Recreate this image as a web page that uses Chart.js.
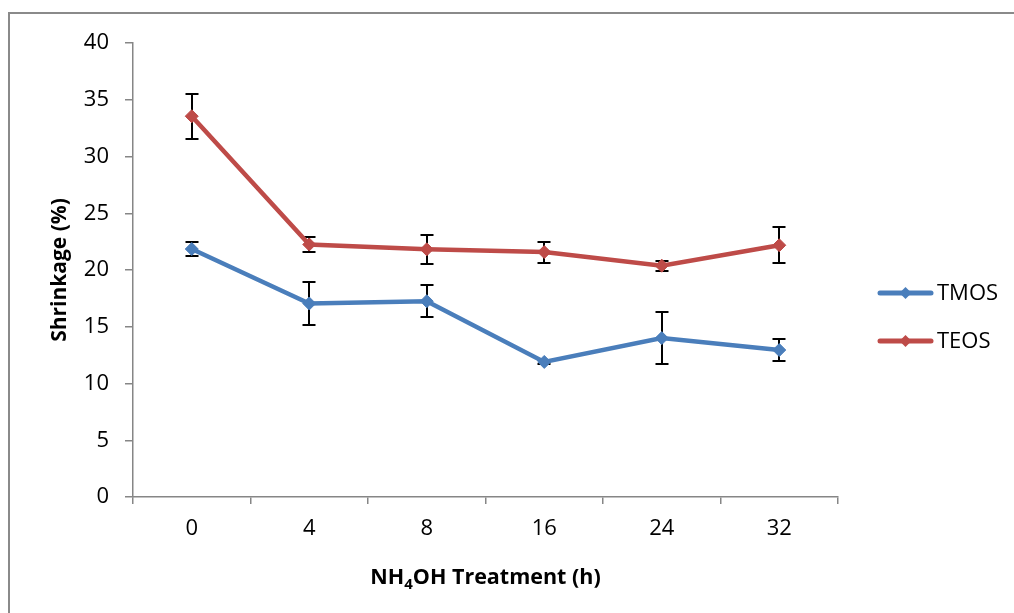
<!DOCTYPE html>
<html>
<head>
<meta charset="utf-8">
<script src="https://cdn.jsdelivr.net/npm/chart.js@4/dist/chart.umd.min.js"></script>
<style>
  html, body { margin: 0; padding: 0; background: #ffffff; }
  #wrap { width: 1014px; height: 613px; position: relative; }
</style>
</head>
<body>
<div id="wrap"><canvas id="c" width="1014" height="613"></canvas></div>
<script>
// NH4OH treatment time (h)
const categories = ['0', '4', '8', '16', '24', '32'];

// Shrinkage (%) and standard deviations
const tmosValues = [21.85, 17.05, 17.25, 11.9, 14.0, 12.95];
const tmosErrors = [0.66, 1.9, 1.43, 0.2, 2.28, 0.95];
const teosValues = [33.55, 22.25, 21.82, 21.58, 20.38, 22.18];
const teosErrors = [2.0, 0.64, 1.25, 0.93, 0.44, 1.6];

// Value axis
const yMin = 0;
const yMax = 40;
const yStep = 5;

const FONT = '"Open Sans", "Liberation Sans", sans-serif';
const AXIS_GREY = '#868686';
const BLUE = '#4A7EBB';
const RED = '#BE4B48';

const errorSets = [tmosErrors, teosErrors];

// white page with the chart-area frame lines on the left and top
const framePlugin = {
  id: 'frame',
  beforeDraw(chart) {
    const ctx = chart.ctx;
    ctx.save();
    ctx.fillStyle = '#ffffff';
    ctx.fillRect(0, 0, chart.width, chart.height);
    ctx.fillStyle = '#8a8a8a';
    ctx.fillRect(8, 12, 2, chart.height - 12);
    ctx.fillRect(8, 12, chart.width - 8, 2);
    ctx.restore();
  }
};

// vertical error bars with caps, drawn under the lines and markers
const errorBarPlugin = {
  id: 'errorBars',
  beforeDatasetsDraw(chart) {
    const ctx = chart.ctx;
    const y = chart.scales.y;
    ctx.save();
    ctx.strokeStyle = '#000000';
    ctx.lineWidth = 2;
    chart.data.datasets.forEach((ds, i) => {
      const meta = chart.getDatasetMeta(i);
      const errs = errorSets[i];
      meta.data.forEach((pt, j) => {
        const v = ds.data[j];
        const e = errs[j];
        const top = Math.round(y.getPixelForValue(v + e));
        const bot = Math.round(y.getPixelForValue(v - e));
        const x = Math.round(pt.x);
        ctx.beginPath();
        ctx.moveTo(x, top);
        ctx.lineTo(x, bot);
        ctx.moveTo(x - 6.5, top);
        ctx.lineTo(x + 6.5, top);
        ctx.moveTo(x - 6.5, bot);
        ctx.lineTo(x + 6.5, bot);
        ctx.stroke();
      });
    });
    ctx.restore();
  }
};

// axis titles (with subscript in NH4OH) and the right-hand legend
const annotatePlugin = {
  id: 'annotate',
  afterDraw(chart) {
    const ctx = chart.ctx;
    const area = chart.chartArea;
    ctx.save();
    ctx.fillStyle = '#000000';

    // y-axis title
    ctx.font = 'bold 21px ' + FONT;
    ctx.textAlign = 'center';
    ctx.textBaseline = 'middle';
    ctx.save();
    ctx.translate(60, (area.top + area.bottom) / 2);
    ctx.rotate(-Math.PI / 2);
    ctx.fillText('Shrinkage (%)', 0, 0);
    ctx.restore();

    // x-axis title: NH4OH Treatment (h)
    const parts = [
      { t: 'NH', size: 21.5, dy: 0 },
      { t: '4', size: 15, dy: 5 },
      { t: 'OH Treatment (h)', size: 21.5, dy: 0 }
    ];
    let total = 0;
    parts.forEach(p => {
      ctx.font = 'bold ' + p.size + 'px ' + FONT;
      p.w = ctx.measureText(p.t).width;
      total += p.w;
    });
    let x = (area.left + area.right) / 2 - total / 2;
    const baseY = 584;
    ctx.textAlign = 'left';
    ctx.textBaseline = 'alphabetic';
    parts.forEach(p => {
      ctx.font = 'bold ' + p.size + 'px ' + FONT;
      ctx.fillText(p.t, x, baseY + p.dy);
      x += p.w;
    });

    // legend
    const legendY = [293, 341];
    chart.data.datasets.forEach((ds, i) => {
      const ly = legendY[i];
      ctx.strokeStyle = ds.borderColor;
      ctx.lineWidth = 5;
      ctx.lineCap = 'round';
      ctx.beginPath();
      ctx.moveTo(880, ly);
      ctx.lineTo(931, ly);
      ctx.stroke();
      ctx.fillStyle = ds.borderColor;
      ctx.beginPath();
      ctx.moveTo(905.5, ly - 6);
      ctx.lineTo(911.5, ly);
      ctx.lineTo(905.5, ly + 6);
      ctx.lineTo(899.5, ly);
      ctx.closePath();
      ctx.fill();
      ctx.fillStyle = '#000000';
      ctx.font = '22px ' + FONT;
      ctx.textAlign = 'left';
      ctx.textBaseline = 'middle';
      ctx.fillText(ds.label, 937, ly + 1);
    });
    ctx.restore();
  }
};

new Chart(document.getElementById('c'), {
  type: 'line',
  data: {
    labels: categories,
    datasets: [
      {
        label: 'TMOS',
        data: tmosValues,
        borderColor: BLUE,
        backgroundColor: BLUE,
        borderWidth: 4.5,
        pointStyle: 'rectRot',
        pointRadius: 6.5,
        pointBorderWidth: 1,
        pointBorderColor: BLUE,
        pointBackgroundColor: BLUE,
        tension: 0,
        fill: false
      },
      {
        label: 'TEOS',
        data: teosValues,
        borderColor: RED,
        backgroundColor: RED,
        borderWidth: 4.5,
        pointStyle: 'rectRot',
        pointRadius: 6.5,
        pointBorderWidth: 1,
        pointBorderColor: RED,
        pointBackgroundColor: RED,
        tension: 0,
        fill: false
      }
    ]
  },
  options: {
    responsive: false,
    animation: false,
    events: [],
    layout: { padding: { left: 0, top: 43, right: 176, bottom: 0 } },
    plugins: {
      legend: { display: false },
      tooltip: { enabled: false },
      title: { display: false }
    },
    scales: {
      x: {
        type: 'category',
        offset: true,
        afterFit(s) { s.height = 116; },
        grid: {
          offset: true,
          drawOnChartArea: false,
          drawTicks: true,
          tickLength: 7,
          color: AXIS_GREY,
          lineWidth: 1.5
        },
        border: { display: true, color: AXIS_GREY, width: 1.5 },
        ticks: {
          color: '#000000',
          font: { family: FONT, size: 22 },
          padding: 12,
          maxRotation: 0
        }
      },
      y: {
        min: yMin,
        max: yMax,
        afterFit(s) { s.width = 133; },
        grid: {
          drawOnChartArea: false,
          drawTicks: true,
          tickLength: 8,
          color: AXIS_GREY,
          lineWidth: 1.5
        },
        border: { display: true, color: AXIS_GREY, width: 1.5 },
        ticks: {
          stepSize: yStep,
          color: '#000000',
          font: { family: FONT, size: 22 },
          padding: 16
        }
      }
    }
  },
  plugins: [framePlugin, errorBarPlugin, annotatePlugin]
});
</script>
</body>
</html>
